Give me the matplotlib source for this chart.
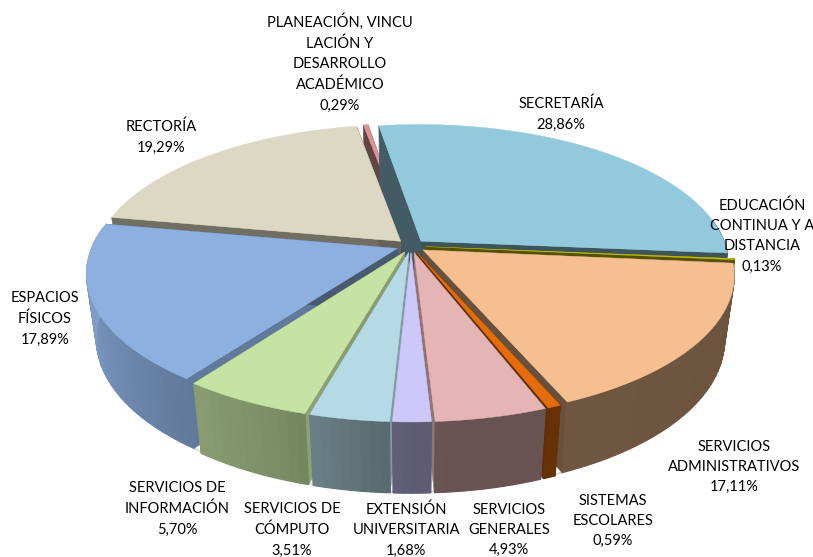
import numpy as np
import matplotlib
matplotlib.use("Agg")
import matplotlib.pyplot as plt

names = ["SECRETARÍA", "EDUCACIÓN\nCONTINUA Y A\nDISTANCIA", "SERVICIOS\nADMINISTRATIVOS",
         "SISTEMAS\nESCOLARES", "SERVICIOS\nGENERALES", "EXTENSIÓN\nUNIVERSITARIA",
         "SERVICIOS DE\nCÓMPUTO", "SERVICIOS DE\nINFORMACIÓN", "ESPACIOS\nFÍSICOS",
         "RECTORÍA", "PLANEACIÓN, VINCU\nLACIÓN Y\nDESARROLLO\nACADÉMICO"]
values = [28.86, 0.13, 17.11, 0.59, 4.93, 1.68, 3.51, 5.70, 17.89, 19.29, 0.29]
colors = ["#92c9dc", "#c9c400", "#f6bf8f", "#e46c0a", "#e5b4b4", "#ccc8fa",
          "#b5dae6", "#c5e3a3", "#8db0e0", "#ddd8c3", "#d99694"]
label_xy = [(561, 114), (762, 236), (734, 467), (613, 521), (509, 530), (406, 530),
            (292, 530), (177, 509), (45, 319), (161, 137), (340, 63)]

# projection settings (pixels)
CX, CY = 411, 246
RX, RY = 305, 138
DEPTH = 66
K = 0.17
M = 0.03
EXPLODE = 0.048
START = -9.0


def project(u, v, z):
    # z = 0 is the top face, z = -1 the bottom face
    w = 1 + K * v - M * z
    return CX + RX * u / w, CY - (RY * v + DEPTH * z) / w


def wall_shade(t):
    # lighter on the left of the pie, dark at the front and on the right
    t = t % 360
    return np.interp(t, [90, 180, 200, 240, 290], [0.43, 0.46, 0.62, 0.8, 1.0])


def face_shade(t):
    t = t % 360
    return np.interp(t, [100, 168, 180, 227, 290, 360], [0.42, 0.42, 0.72, 0.68, 0.48, 0.45])


def scale_color(c, f):
    rgb = np.array(matplotlib.colors.to_rgb(c))
    return tuple(np.clip(rgb * f, 0, 1))


fig = plt.figure(figsize=(8.13, 5.57), dpi=100)
ax = fig.add_axes([0, 0, 1, 1])
ax.set_xlim(0, 813)
ax.set_ylim(557, 0)
ax.axis("off")

edges = START + np.cumsum([0] + values) * 3.6
slices = []
for i, val in enumerate(values):
    t0, t1 = edges[i], edges[i + 1]
    mid = np.radians((t0 + t1) / 2)
    du, dv = EXPLODE * np.sin(mid), EXPLODE * np.cos(mid)
    slices.append((i, t0, t1, du, dv, np.cos(mid)))

# floor shadow under the front rim
ts = np.radians(np.linspace(95, 285, 120))
xs, ys = project(np.sin(ts) * 1.035, np.cos(ts) * 1.035, -1.02)
ax.plot(xs, ys, color="#dcdcdc", lw=1.6, zorder=0)

# back to front
slices.sort(key=lambda s: -s[5])
for order, (i, t0, t1, du, dv, _) in enumerate(slices):
    col = colors[i]
    z = 1 + order
    n = max(2, int((t1 - t0) / 1.5) + 1)
    ts = np.linspace(t0, t1, n)
    us = du + np.sin(np.radians(ts))
    vs = dv + np.cos(np.radians(ts))

    # radial cut faces
    for t_edge, side in ((t0, 0), (t1, -1)):
        ue, ve = us[side], vs[side]
        p = [project(du, dv, 0), project(ue, ve, 0), project(ue, ve, -1), project(du, dv, -1)]
        fc = scale_color(col, face_shade(t_edge))
        ax.fill(*zip(*p), color=fc, lw=0.4, zorder=z)

    # outer wall, shaded strip by strip
    for j in range(n - 1):
        if np.cos(np.radians(ts[j])) > 0.15 and np.cos(np.radians(ts[j + 1])) > 0.15:
            continue
        a = project(us[j], vs[j], 0)
        b = project(us[j + 1], vs[j + 1], 0)
        c = project(us[j + 1], vs[j + 1], -1)
        d = project(us[j], vs[j], -1)
        fc = scale_color(col, wall_shade((ts[j] + ts[j + 1]) / 2))
        ax.fill(*zip(a, b, c, d), color=fc, lw=0.8, zorder=z)

    # top face
    tx, ty = project(np.r_[du, us], np.r_[dv, vs], 0)
    ax.fill(tx, ty, color=col, lw=0.3, zorder=z)

for name, val, (x, y) in zip(names, values, label_xy):
    txt = name + "\n" + f"{val:.2f}%".replace(".", ",")
    ax.text(x, y, txt, ha="center", va="center", family="Lato", fontsize=10.5,
            color="#000000", linespacing=1.58, zorder=50)

fig.savefig("out.png", dpi=100)
